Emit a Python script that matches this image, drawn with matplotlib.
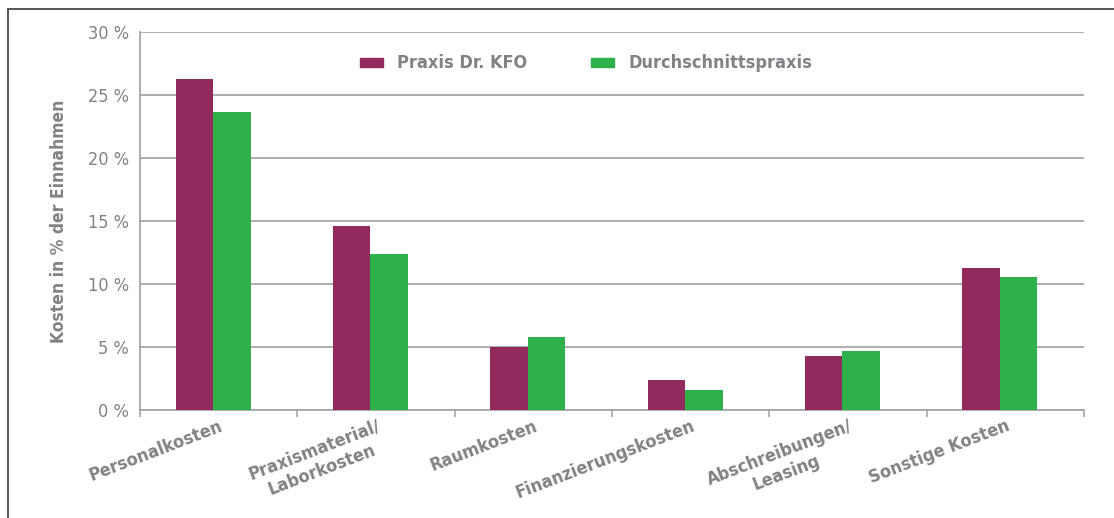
import numpy as np
import matplotlib
matplotlib.use('Agg')
import matplotlib.pyplot as plt
from matplotlib.lines import Line2D
from matplotlib.patches import Rectangle

categories = ['Personalkosten', 'Praxismaterial/\nLaborkosten', 'Raumkosten',
              'Finanzierungskosten', 'Abschreibungen/\nLeasing', 'Sonstige Kosten']
praxis_kfo = [26.3, 14.6, 5.0, 2.4, 4.3, 11.3]
durchschnitt = [23.7, 12.4, 5.8, 1.6, 4.7, 10.6]
series_names = ['Praxis Dr. KFO', 'Durchschnittspraxis']
yticks = [0, 5, 10, 15, 20, 25, 30]

purple = '#922a5e'
green = '#2eb04a'
grey = '#808285'
gridc = '#a6a6a6'

# condensed face, closest to the original narrow font
plt.rcParams['font.family'] = ['DejaVu Sans']
plt.rcParams['font.stretch'] = 'condensed'

fig = plt.figure(figsize=(11.14, 5.18), dpi=100)
ax = fig.add_axes([140/1114, 1 - 410/518, 944/1114, 377.5/518])

x = np.arange(len(categories)) + 0.5
w = 0.238
off = -0.035
ax.bar(x + off - w/2, praxis_kfo, w, color=purple, zorder=3)
ax.bar(x + off + w/2, durchschnitt, w, color=green, zorder=3)

ax.set_xlim(0, len(categories))
ax.set_ylim(0, 30)
ax.set_yticks(yticks)
ax.set_yticklabels(['{} %'.format(v) for v in yticks], fontsize=13, color=grey)
ax.tick_params(axis='y', length=0, pad=8)
ax.yaxis.grid(True, color=gridc, lw=1.3, zorder=0)

# category labels at centres, tick marks at the boundaries
ax.set_xticks(x)
ax.set_xticklabels(categories, fontsize=13, fontweight='bold', color=grey,
                   rotation=21, ha='right', rotation_mode='anchor',
                   multialignment='center')
ax.tick_params(axis='x', which='major', length=0, pad=5)
ax.set_xticks(np.arange(len(categories) + 1), minor=True)
ax.tick_params(axis='x', which='minor', length=5, width=1.2, color=gridc)

for s in ['top', 'right']:
    ax.spines[s].set_visible(False)
for s in ['left', 'bottom']:
    ax.spines[s].set_color(gridc)
    ax.spines[s].set_linewidth(1.3)

ax.set_ylabel('Kosten in % der Einnahmen', fontsize=12.5, fontweight='bold',
              color=grey, labelpad=14)

# legend by hand
for xp, col, name in [(360, purple, series_names[0]), (591, green, series_names[1])]:
    fig.add_artist(Rectangle((xp/1114, 1 - 67/518), 23/1114, 9/518,
                             transform=fig.transFigure, color=col))
    fig.text((xp + 37)/1114, 1 - 63/518, name, fontsize=13, fontweight='bold',
             color=grey, va='center', ha='left')

# outer frame, top and left
fig.add_artist(Line2D([8/1114, 1], [1 - 9/518, 1 - 9/518], color='#555555', lw=1.4))
fig.add_artist(Line2D([8/1114, 8/1114], [0, 1 - 9/518], color='#555555', lw=1.4))

fig.savefig('out.png', dpi=100)
